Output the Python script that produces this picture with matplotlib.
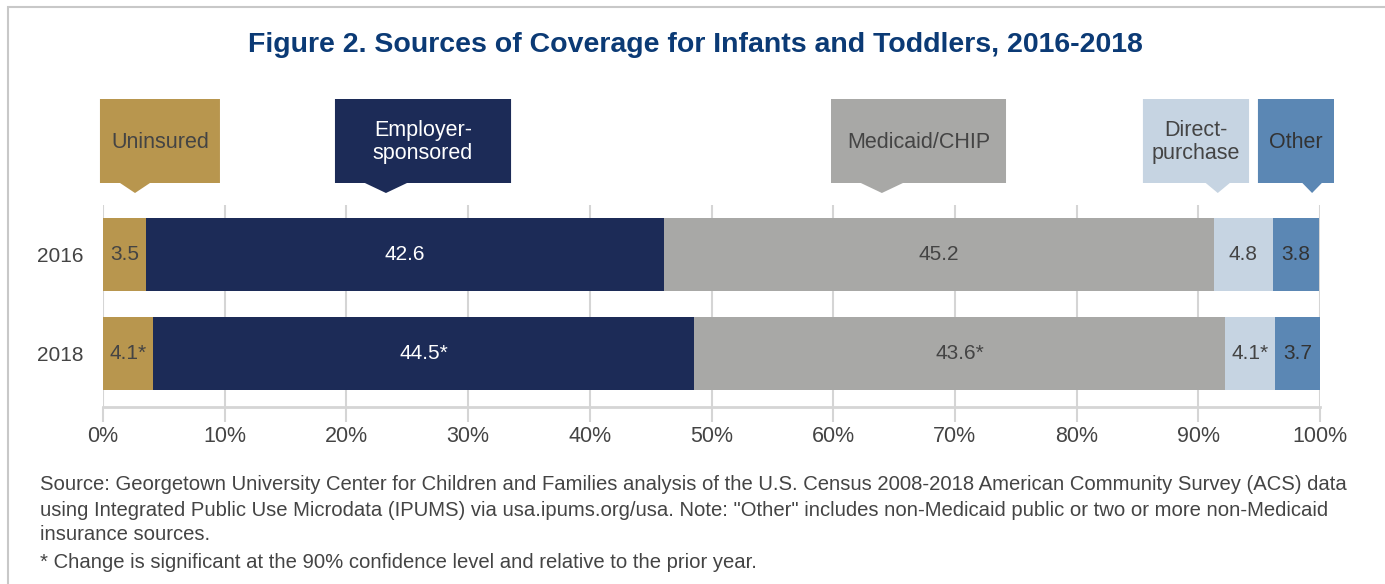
import numpy as np
import matplotlib.pyplot as plt
from matplotlib.patches import Polygon, Rectangle
from matplotlib.transforms import blended_transform_factory

plt.rcParams['font.family'] = ['Liberation Sans', 'DejaVu Sans']

# data
years = ['2016', '2018']
categories = ['Uninsured', 'Employer-sponsored', 'Medicaid/CHIP', 'Direct-purchase', 'Other']
uninsured = [3.5, 4.1]
employer = [42.6, 44.5]
medicaid = [45.2, 43.6]
direct = [4.8, 4.1]
other = [3.8, 3.7]
# significant change vs prior year (marked with *)
uninsured_sig = [False, True]
employer_sig = [False, True]
medicaid_sig = [False, True]
direct_sig = [False, True]
other_sig = [False, False]
xticks = [0, 10, 20, 30, 40, 50, 60, 70, 80, 90, 100]

series = [uninsured, employer, medicaid, direct, other]
sigs = [uninsured_sig, employer_sig, medicaid_sig, direct_sig, other_sig]
colors = ['#B8964E', '#1C2B57', '#A8A8A6', '#C6D4E2', '#5B87B4']
text_colors = ['#444444', 'white', '#444444', '#444444', '#333333']
callout_text = ['Uninsured', 'Employer-\nsponsored', 'Medicaid/CHIP', 'Direct-\npurchase', 'Other']
# callout boxes: (left, right, pointer x, pointer half width) in % units
callout_box = [(-0.25, 9.61, 2.63, 1.23),
               (19.06, 33.53, 23.25, 1.73),
               (59.82, 74.2, 64.0, 1.73),
               (85.45, 94.17, 91.6, 0.99),
               (94.9, 101.15, 99.35, 0.8)]

fig = plt.figure(figsize=(13.85, 5.84), dpi=100)
ax = fig.add_axes([103/1385, 1-407/584, 1217/1385, 202/584])

# frame around the figure (top and left only visible)
fig.patches.append(Rectangle((8/1385, -0.1), 1.2, 1-7/584+0.1, transform=fig.transFigure,
                             fill=False, edgecolor='#C8C8C8', linewidth=1.5))

ypos = np.arange(len(years))
left = np.zeros(len(years))
for vals, sg, col, tc in zip(series, sigs, colors, text_colors):
    vals = np.array(vals)
    ax.barh(ypos, vals, left=left, height=0.74, color=col, zorder=3)
    for i in range(len(years)):
        lab = f'{vals[i]:.1f}' + ('*' if sg[i] else '')
        ax.text(left[i] + vals[i] / 2, ypos[i], lab, ha='center', va='center',
                color=tc, fontsize=15, zorder=4)
    left += vals

ax.set_xlim(0, 100)
ax.set_ylim(1.54, -0.5)
ax.set_yticks(ypos)
ax.set_yticklabels(years)
ax.set_xticks(xticks)
ax.set_xticklabels([f'{t}%' for t in xticks])
ax.tick_params(axis='y', length=0, pad=14, labelsize=15, labelcolor='#444444')
ax.tick_params(axis='x', length=11, width=1.5, color='#D5D5D5', pad=3,
               labelsize=15.5, labelcolor='#444444')
ax.grid(axis='x', color='#D5D5D5', linewidth=1.5, zorder=0)
for s in ['top', 'right', 'left']:
    ax.spines[s].set_visible(False)
ax.spines['bottom'].set_color('#D5D5D5')
ax.spines['bottom'].set_linewidth(2)

# callouts above the bars
tr = blended_transform_factory(ax.transData, fig.transFigure)
top = 1 - 99/584
bot = 1 - 183/584
tip = 1 - 193/584
for (l, r, px, hw), col, tc, txt in zip(callout_box, colors, text_colors, callout_text):
    poly = Polygon([(l, top), (r, top), (r, bot), (px + hw, bot), (px, tip),
                    (px - hw, bot), (l, bot)], closed=True, facecolor=col,
                   edgecolor='none', transform=tr, clip_on=False)
    fig.patches.append(poly)
    fig.text((l + r) / 2, (top + bot) / 2 - 1/584, txt, transform=tr, ha='center', va='center',
             color=tc, fontsize=15.5, linespacing=1.15)

fig.text(0.502, 1 - 45/584, 'Figure 2. Sources of Coverage for Infants and Toddlers, 2016-2018',
         ha='center', va='center', color='#0B3A75', fontsize=20.5, fontweight='bold')

note_lines = ['Source: Georgetown University Center for Children and Families analysis of the U.S. Census 2008-2018 American Community Survey (ACS) data',
              'using Integrated Public Use Microdata (IPUMS) via usa.ipums.org/usa. Note: "Other" includes non-Medicaid public or two or more non-Medicaid',
              'insurance sources.',
              '* Change is significant at the 90% confidence level and relative to the prior year.']
note_y = [485, 510, 535, 563]
for line, yy in zip(note_lines, note_y):
    fig.text(40/1385, 1 - yy/584, line, ha='left', va='center', color='#444444', fontsize=14.6)

fig.savefig('out.png', dpi=100)
